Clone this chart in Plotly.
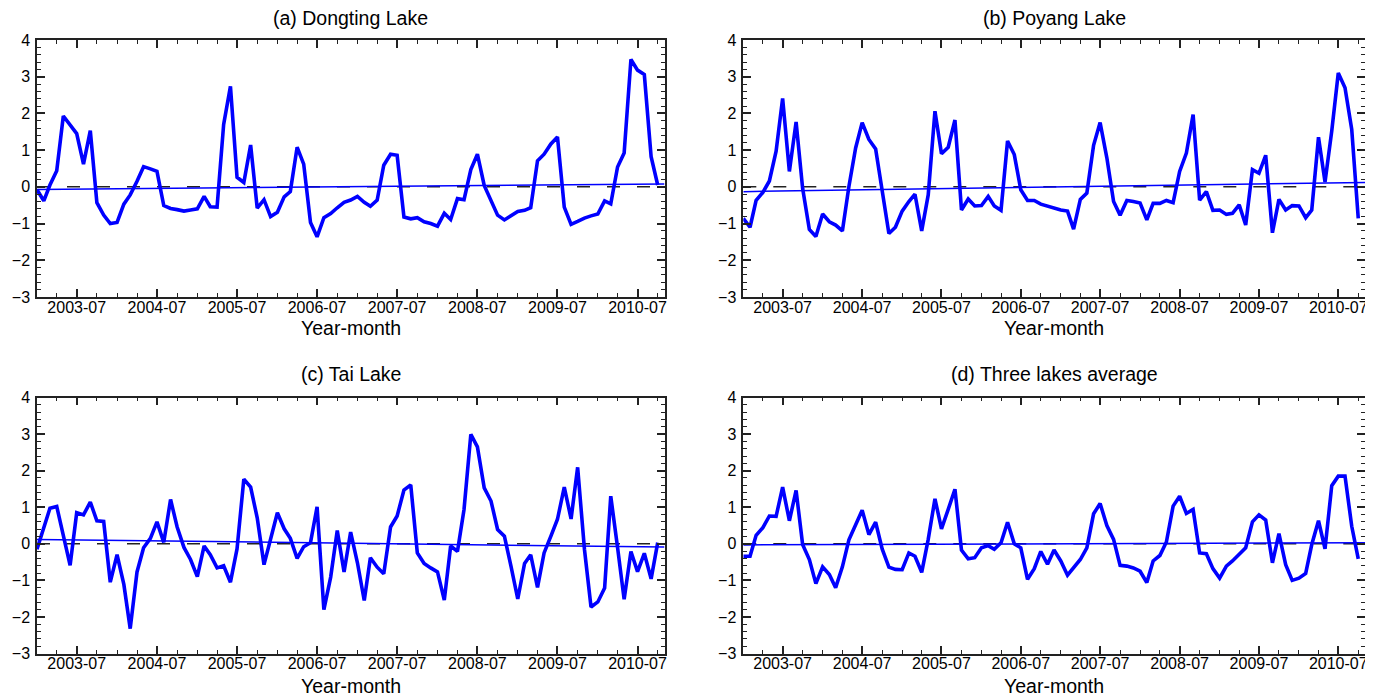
import pandas as pd
import plotly.graph_objects as go

months = pd.date_range("2003-01-01", periods=94, freq="MS")
x_range = ["2003-01-01", "2010-11-01"]

dongting = [-0.08, -0.38, 0.05, 0.44, 1.93, 1.70, 1.45, 0.62, 1.53, -0.43,
            -0.77, -1.00, -0.97, -0.47, -0.22, 0.15, 0.55, 0.49, 0.42, -0.51,
            -0.59, -0.62, -0.66, -0.63, -0.60, -0.26, -0.54, -0.55, 1.70, 2.74,
            0.26, 0.12, 1.14, -0.58, -0.35, -0.81, -0.69, -0.27, -0.13, 1.08,
            0.62, -0.97, -1.36, -0.84, -0.73, -0.57, -0.42, -0.36, -0.26, -0.42,
            -0.53, -0.36, 0.59, 0.89, 0.86, -0.82, -0.87, -0.84, -0.95, -1.00,
            -1.07, -0.72, -0.89, -0.32, -0.35, 0.47, 0.89, 0.04, -0.38, -0.77,
            -0.90, -0.79, -0.67, -0.64, -0.57, 0.71, 0.89, 1.17, 1.36, -0.55,
            -1.02, -0.94, -0.85, -0.79, -0.74, -0.38, -0.46, 0.54, 0.92, 3.47,
            3.18, 3.06, 0.82, 0.05]

poyang = [-0.86, -1.10, -0.37, -0.15, 0.16, 0.97, 2.41, 0.42, 1.77, -0.04,
          -1.16, -1.35, -0.74, -0.95, -1.04, -1.20, 0.01, 1.06, 1.75, 1.29,
          1.03, -0.13, -1.27, -1.10, -0.66, -0.40, -0.20, -1.20, -0.22, 2.06,
          0.90, 1.08, 1.82, -0.63, -0.33, -0.52, -0.51, -0.26, -0.52, -0.64,
          1.25, 0.88, -0.08, -0.37, -0.37, -0.47, -0.52, -0.59, -0.63, -0.66,
          -1.15, -0.34, -0.17, 1.13, 1.75, 0.79, -0.40, -0.77, -0.37, -0.40,
          -0.44, -0.90, -0.45, -0.45, -0.37, -0.43, 0.42, 0.92, 1.97, -0.36,
          -0.13, -0.64, -0.63, -0.75, -0.72, -0.49, -1.04, 0.47, 0.37, 0.86,
          -1.25, -0.34, -0.63, -0.51, -0.52, -0.84, -0.63, 1.35, 0.13, 1.52,
          3.10, 2.70, 1.56, -0.86]

tai = [-0.15, 0.48, 0.97, 1.02, 0.19, -0.59, 0.85, 0.79, 1.14, 0.63,
       0.61, -1.05, -0.30, -1.11, -2.32, -0.77, -0.11, 0.15, 0.60, 0.04,
       1.21, 0.46, -0.10, -0.43, -0.90, -0.06, -0.30, -0.66, -0.60, -1.05,
       -0.14, 1.77, 1.55, 0.71, -0.57, 0.12, 0.85, 0.41, 0.15, -0.40,
       -0.08, 0.03, 1.01, -1.80, -0.91, 0.36, -0.77, 0.32, -0.52, -1.55,
       -0.38, -0.64, -0.82, 0.46, 0.76, 1.47, 1.61, -0.25, -0.54, -0.66,
       -0.77, -1.54, -0.06, -0.21, 0.94, 2.99, 2.65, 1.53, 1.17, 0.39,
       0.21, -0.61, -1.51, -0.54, -0.30, -1.19, -0.25, 0.21, 0.67, 1.55,
       0.68, 2.09, -0.15, -1.73, -1.59, -1.21, 1.30, -0.10, -1.52, -0.21,
       -0.76, -0.26, -0.96, 0.03]

average = [-0.34, -0.34, 0.23, 0.44, 0.76, 0.75, 1.55, 0.63, 1.46, -0.02,
           -0.43, -1.09, -0.63, -0.84, -1.20, -0.63, 0.11, 0.53, 0.92, 0.25,
           0.59, -0.14, -0.64, -0.70, -0.71, -0.25, -0.34, -0.78, 0.12, 1.23,
           0.41, 0.94, 1.49, -0.17, -0.41, -0.38, -0.11, -0.05, -0.15, 0.03,
           0.59, 0.00, -0.11, -0.97, -0.68, -0.21, -0.56, -0.17, -0.47, -0.86,
           -0.65, -0.43, -0.11, 0.82, 1.10, 0.50, 0.12, -0.59, -0.61, -0.66,
           -0.75, -1.06, -0.47, -0.32, 0.05, 1.03, 1.30, 0.83, 0.94, -0.25,
           -0.27, -0.68, -0.94, -0.61, -0.47, -0.27, -0.11, 0.60, 0.79, 0.65,
           -0.52, 0.28, -0.57, -1.00, -0.94, -0.81, -0.02, 0.63, -0.14, 1.59,
           1.85, 1.85, 0.48, -0.41]

trend_a = [-0.07, 0.08]
trend_b = [-0.13, 0.12]
trend_c = [0.12, -0.09]
trend_d = [-0.03, 0.03]

titles = ["(a) Dongting Lake", "(b) Poyang Lake", "(c) Tai Lake", "(d) Three lakes average"]
x_title = "Year-month"
series = [dongting, poyang, tai, average]
trends = [trend_a, trend_b, trend_c, trend_d]

# The page body adds an 8px offset; figure pixel = screen pixel - OFF
OFF = 8
W, H = 1373 - OFF, 694 - OFF
# plot boxes in screen pixels (left, right, top, bottom)
boxes = [(37, 664.5, 40, 297), (743.3, 1365, 40, 297),
         (37, 664.5, 397.5, 653.5), (743.3, 1365, 397.5, 653.5)]
xtitle_y = [328, 328, 686, 686]
title_y = [18, 18, 374, 374]

FONT = "Liberation Sans, Arial, Helvetica, sans-serif"
fig = go.Figure()

for k in range(4):
    xa = "x" if k == 0 else f"x{k+1}"
    ya = "y" if k == 0 else f"y{k+1}"
    l, r, t, b = [v - OFF for v in boxes[k]]
    fig.add_trace(go.Scatter(x=x_range, y=[0, 0], mode="lines",
                             line=dict(color="#222222", width=1.5, dash="13px,17px"),
                             xaxis=xa, yaxis=ya, showlegend=False, hoverinfo="skip"))
    fig.add_trace(go.Scatter(x=x_range, y=trends[k], mode="lines",
                             line=dict(color="#0000ff", width=1.5),
                             xaxis=xa, yaxis=ya, showlegend=False))
    fig.add_trace(go.Scatter(x=months, y=series[k], mode="lines",
                             line=dict(color="#0000ff", width=3.6),
                             xaxis=xa, yaxis=ya, showlegend=False))
    axkey_x = "xaxis" if k == 0 else f"xaxis{k+1}"
    axkey_y = "yaxis" if k == 0 else f"yaxis{k+1}"
    fig.layout[axkey_x] = dict(
        domain=[l / W, r / W], anchor=ya, type="date", range=x_range,
        tick0="2003-07-01", dtick="M12", tickformat="%Y-%m",
        ticks="inside", ticklen=8, tickwidth=1.5, tickcolor="#222",
        minor=dict(dtick="M3", tick0="2003-01-01", ticks="inside", ticklen=4,
                   tickwidth=1.2, tickcolor="#222", showgrid=False),
        showline=True, linecolor="#222", linewidth=1.5, mirror="allticks",
        showgrid=False, zeroline=False, automargin=False, ticklabelstandoff=-5,
        tickfont=dict(family=FONT, size=16, color="black"),
    )
    fig.layout[axkey_y] = dict(
        domain=[1 - b / H, 1 - t / H], anchor=xa, range=[-3, 4],
        tick0=0, dtick=1, ticks="inside", ticklen=8, tickwidth=1.5, tickcolor="#222",
        minor=dict(dtick=0.2, ticks="inside", ticklen=4, tickwidth=1.2,
                   tickcolor="#222", showgrid=False),
        showline=True, linecolor="#222", linewidth=1.5, mirror="allticks",
        showgrid=False, zeroline=False, automargin=False, ticklabelstandoff=2,
        tickfont=dict(family=FONT, size=16, color="black"),
    )
    fig.add_annotation(text=titles[k], x=(l + r) / 2 / W, y=1 - (title_y[k] - OFF) / H,
                       xref="paper", yref="paper", showarrow=False,
                       xanchor="center", yanchor="middle",
                       font=dict(family=FONT, size=19.5, color="black"))
    fig.add_annotation(text=x_title, x=(l + r) / 2 / W, y=1 - (xtitle_y[k] - OFF) / H,
                       xref="paper", yref="paper", showarrow=False,
                       xanchor="center", yanchor="middle",
                       font=dict(family=FONT, size=19.5, color="black"))

fig.update_layout(width=W, height=H, margin=dict(l=0, r=0, t=0, b=0, autoexpand=False),
                  plot_bgcolor="white", paper_bgcolor="white", showlegend=False)
fig.write_html("out.html")
